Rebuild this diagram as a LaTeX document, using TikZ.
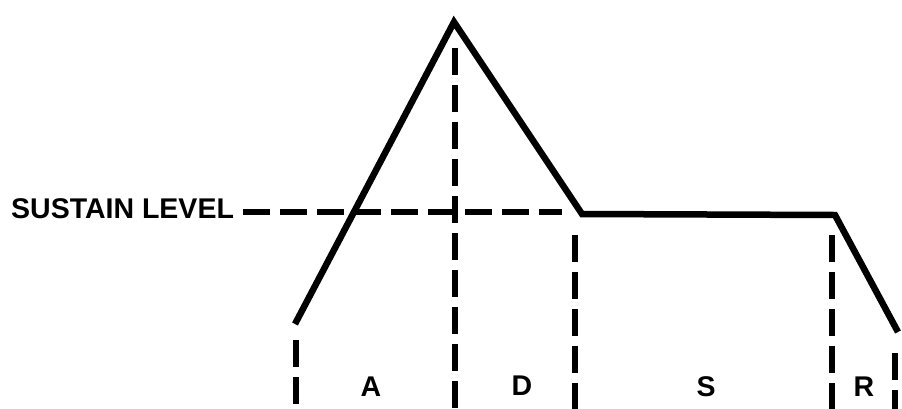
\documentclass[tikz,border=0pt]{standalone}
\usepackage{fontspec}
\setmainfont{Liberation Sans}
\begin{document}
\begin{tikzpicture}[x=1pt,y=-1pt,
  envelope/.style={line width=6.5pt,line join=miter,miter limit=10},
  guide/.style={line width=5.5pt,dash pattern=on 27pt off 10pt},
  lab/.style={inner sep=0pt,anchor=base,font=\fontsize{28.5}{31}\selectfont\bfseries}]
\useasboundingbox[fill=white] (0,0) rectangle (902,408);
% envelope points
\coordinate (start) at (295,324);
\coordinate (peak) at (454,22);
\coordinate (sus1) at (582,214);
\coordinate (sus2) at (835,215);
\coordinate (rend) at (898,332);
% sustain level label and guide
\node[lab,anchor=base west] (sl) at (11,218) {SUSTAIN LEVEL};
\coordinate (slA) at (243,212);
\coordinate (slB) at (562,212);
\draw[guide] (slA) -- (slB);
% vertical guides
\coordinate (v1t) at (296,340); \coordinate (v1b) at (296,412);
\coordinate (v2t) at (455,48);  \coordinate (v2b) at (455,412);
\coordinate (v3t) at (575,235); \coordinate (v3b) at (575,412);
\coordinate (v4t) at (832,235); \coordinate (v4b) at (832,412);
\coordinate (v5t) at (895,353); \coordinate (v5b) at (895,412);
\draw[guide] (v1t) -- (v1b);
\draw[guide] (v2t) -- (v2b);
\draw[guide] (v3t) -- (v3b);
\draw[guide] (v4t) -- (v4b);
\draw[guide] (v5t) -- (v5b);
% envelope
\draw[envelope] (start) -- (peak) -- (sus1) -- (sus2) -- (rend);
% phase labels
\node[lab] (A) at (371,396) {A};
\node[lab] (D) at (522,395) {D};
\node[lab] (S) at (706,396) {S};
\node[lab] (R) at (864,396) {R};
\end{tikzpicture}
\end{document}
